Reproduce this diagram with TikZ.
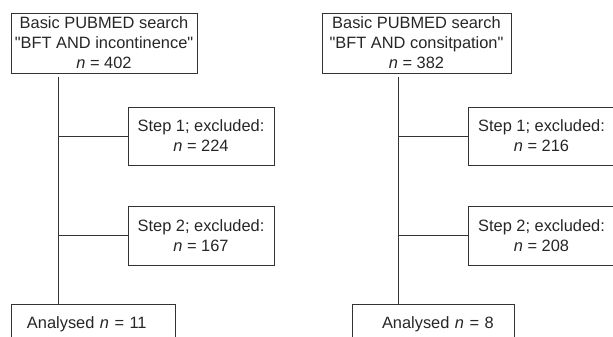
\documentclass[tikz,border=0pt]{standalone}
\usepackage{fontspec}
\setmainfont{Liberation Sans}
\begin{document}
\begin{tikzpicture}[x=1pt,y=-1pt,
  every node/.style={font=\fontsize{16.4}{20}\selectfont, text=black!85},
  box/.style={draw=black!80, line width=0.9pt, inner sep=0pt, align=center},
  endbox/.style={box, minimum height=40, inner sep=0pt, align=left},
  link/.style={draw=black!80, line width=0.9pt}]
\useasboundingbox (0,0) rectangle (613,337);
\clip (0,0) rectangle (613,337);
% left column
\node[box, minimum width=186, minimum height=60] (lt) at (104,43)
  {Basic PUBMED search\\\textquotedbl BFT AND incontinence\textquotedbl\\\textit{n} = 402};
\node[box, minimum width=146, minimum height=58] (ls1) at (201,136)
  {Step 1; excluded:\\\textit{n} = 224};
\node[box, minimum width=146, minimum height=59] (ls2) at (201,235.5)
  {Step 2; excluded:\\\textit{n} = 167};
\node[endbox, text width=164] (lb) at (93,324.5)
  {\hspace*{16pt}Analysed \textit{n} = 11};
\coordinate (l0) at (58.5,77);
\draw[link] (l0) -- (lb.north -| l0);
\draw[link] (ls1.west) -- (ls1.west -| l0);
\draw[link] (ls2.west) -- (ls2.west -| l0);
% right column
\node[box, minimum width=189, minimum height=60] (rt) at (416.5,43)
  {Basic PUBMED search\\\textquotedbl BFT AND consitpation\textquotedbl\\\textit{n} = 382};
\node[box, minimum width=147, minimum height=58] (rs1) at (541.5,136)
  {Step 1; excluded:\\\textit{n} = 216};
\node[box, minimum width=147, minimum height=59] (rs2) at (541.5,235.5)
  {Step 2; excluded:\\\textit{n} = 208};
\node[endbox, text width=162] (rb) at (433,324.5)
  {\hspace*{30pt}Analysed \textit{n} = 8};
\coordinate (r0) at (398,77);
\draw[link] (r0) -- (rb.north -| r0);
\draw[link] (rs1.west) -- (rs1.west -| r0);
\draw[link] (rs2.west) -- (rs2.west -| r0);
\end{tikzpicture}
\end{document}
